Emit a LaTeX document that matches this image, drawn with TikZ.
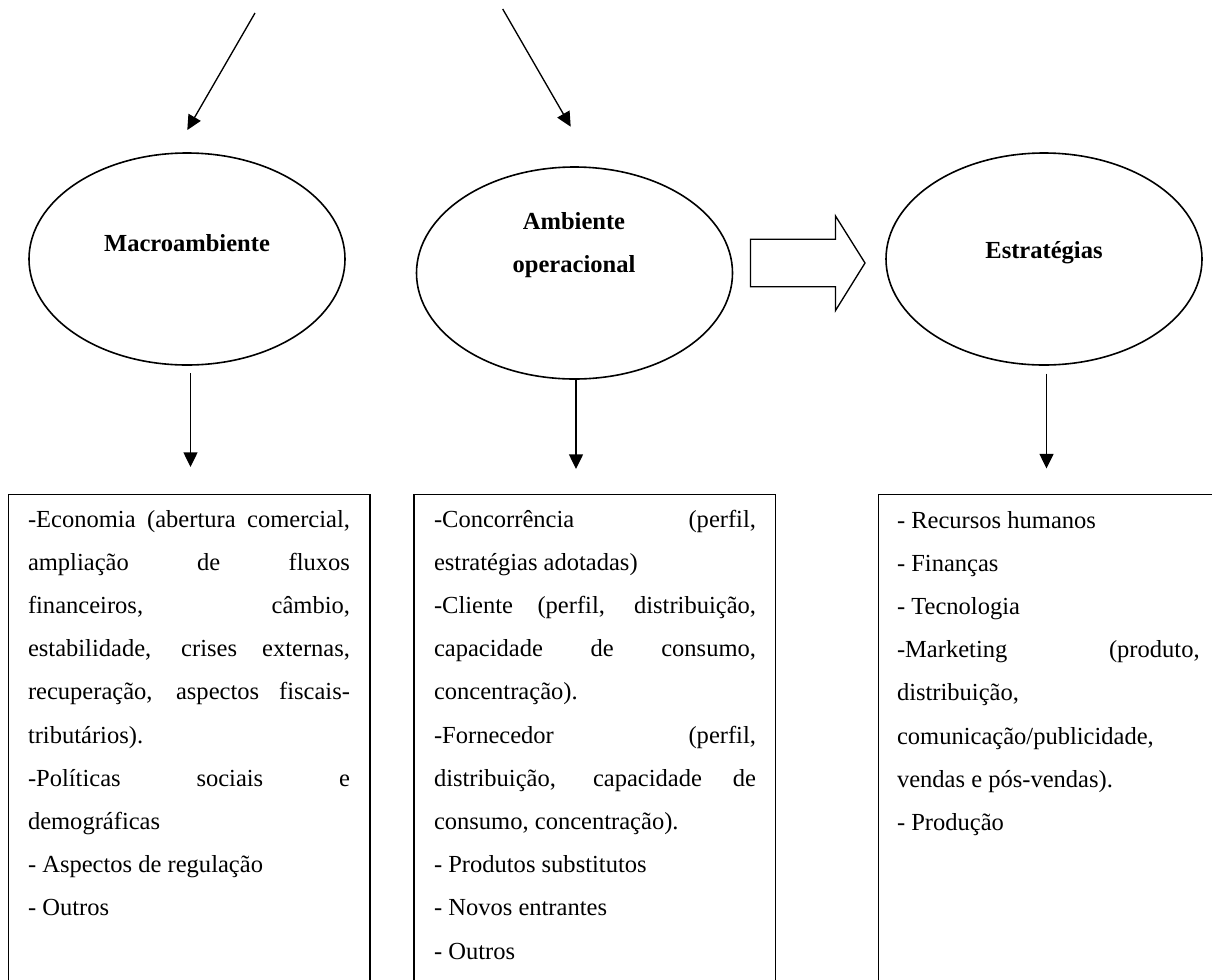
\documentclass[tikz,border=0pt]{standalone}
\usepackage{fontspec}
\setmainfont{Liberation Serif}
\usetikzlibrary{shapes.geometric,arrows.meta}
% one justified line / one line set at its natural width
\newcommand\jline[1]{\makebox[\linewidth][s]{#1}\par}
\newcommand\pline[1]{\mbox{#1}\par}

\begin{document}
\begin{tikzpicture}[x=0.75pt,y=-0.75pt,
  every node/.style={inner sep=0pt, outer sep=0pt},
  oval/.style={ellipse, draw, line width=1.2pt, minimum width=237pt, minimum height=159pt},
  ovallabel/.style={anchor=base, font=\fontsize{18.4pt}{32.25pt}\selectfont\bfseries},
  listbox/.style={draw, line width=1.1pt, anchor=north west, minimum width=271pt, minimum height=380pt},
  listtext/.style={anchor=base west, font=\fontsize{18.4pt}{32.4pt}\selectfont},
  link/.style={line width=1pt, -{Triangle[length=11pt,width=10.5pt]}},
  hollow/.style={draw, line width=1pt, fill=white, line join=miter},
]
\clip (0,0) rectangle (1212,979);

% the three ovals
\node[oval] (macro) at (187,259) {};
\node[oval] (oper)  at (574.5,273) {};
\node[oval] (estr)  at (1044,259) {};
\node[ovallabel] (macroL) at (187,251) {Macroambiente};
\node[ovallabel] (operL)  at (574,229.5) {\parbox[t]{200pt}{\centering Ambiente\\operacional}};
\node[ovallabel] (estrL)  at (1044,258) {Estratégias};

% incoming arrows at the top
\coordinate (srcA) at (255,13);
\coordinate (tipA) at (187.3,130);
\coordinate (srcB) at (502.7,9);
\coordinate (tipB) at (570.7,126.7);
\draw[link] (srcA) -- (tipA);
\draw[link] (srcB) -- (tipB);

% block arrow between the second and third oval
\draw[hollow] (750.5,239.3) -- (835.5,239.3) -- (835.5,216) -- (865,263)
  -- (835.5,310.5) -- (835.5,286.7) -- (750.5,286.7) -- cycle;

% lists
\node[listbox] (boxA) at (8.5,494.5) {};
\node[listbox] (boxB) at (414,494.5) {};
\node[listbox] (boxC) at (878.3,494.5) {};

% down arrows from the ovals to the lists
\coordinate (downA) at (190.5,467);
\coordinate (downB) at (576,469);
\coordinate (downC) at (1046.5,468.5);
\draw[link] ([yshift=-6pt]macro.south -| downA) -- (downA);
\draw[link] (oper.south -| downB) -- (downB);
\draw[link] ([yshift=-6.5pt]estr.south -| downC) -- (downC);

\node[listtext] (listA) at (28,527) {\parbox[t]{241.5pt}{%
  \jline{-Economia (abertura comercial,}
  \jline{ampliação de fluxos}
  \jline{financeiros, câmbio,}
  \jline{estabilidade, crises externas,}
  \jline{recuperação, aspectos fiscais-}
  \pline{tributários).}
  \jline{-Políticas sociais e}
  \pline{demográficas}
  \pline{- Aspectos de regulação}
  \pline{- Outros}}};

\node[listtext] (listB) at (434,527) {\parbox[t]{241.5pt}{%
  \jline{-Concorrência (perfil,}
  \pline{estratégias adotadas)}
  \jline{-Cliente (perfil, distribuição,}
  \jline{capacidade de consumo,}
  \pline{concentração).}
  \jline{-Fornecedor (perfil,}
  \jline{distribuição, capacidade de}
  \pline{consumo, concentração).}
  \pline{- Produtos substitutos}
  \pline{- Novos entrantes}
  \pline{- Outros}}};

\node[listtext] (listC) at (897,528) {\parbox[t]{227pt}{%
  \pline{- Recursos humanos}
  \pline{- Finanças}
  \pline{- Tecnologia}
  \jline{-Marketing (produto,}
  \pline{distribuição,}
  \pline{comunicação/publicidade,}
  \pline{vendas e pós-vendas).}
  \pline{- Produção}}};
\end{tikzpicture}
\end{document}
